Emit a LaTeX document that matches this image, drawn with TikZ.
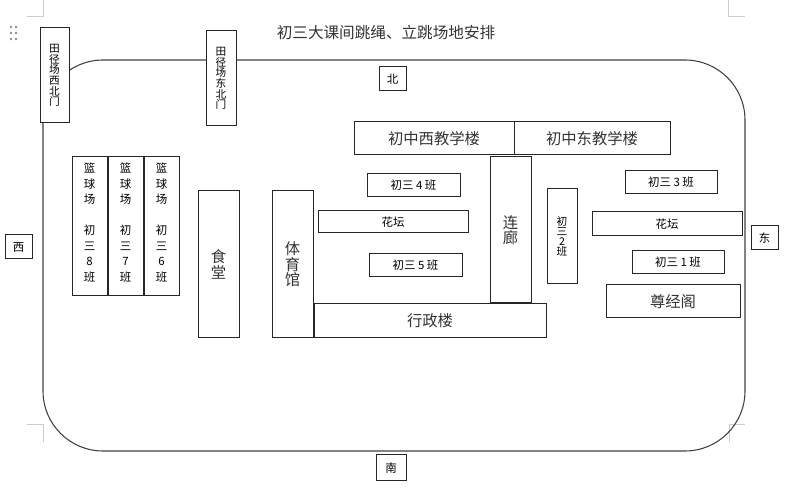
\documentclass[tikz,border=0pt]{standalone}
\usepackage{fontspec}
\setmainfont{Noto Sans CJK SC}
\tikzset{
	bx/.style={draw=black!85, line width=0.75pt, fill=white},
	sm/.style={font=\fontsize{8.6}{11.6}\selectfont, align=center, inner sep=0pt},
	md/.style={font=\fontsize{11.5}{11.6}\selectfont, align=center, inner sep=0pt, text=black!80},
	gate/.style={font=\fontsize{8}{8}\selectfont, align=center, inner sep=0pt},
	pgmark/.style={black!20, line width=0.75pt}
}
\begin{document}
\begin{tikzpicture}[x=0.75pt, y=-0.75pt]
	\useasboundingbox (0,0) rectangle (800,491);
	\draw[pgmark] (27,17) -- (43,17) -- (43,0);
	\draw[pgmark] (745,17) -- (728,17) -- (728,0);
	\draw[pgmark] (27,425) -- (43,425) -- (43,442);
	\draw[pgmark] (745,425) -- (729,425) -- (729,442);
	\foreach \i in {27,33,39} \foreach \j in {11,16} \fill[black!45] (\j,\i) circle (1.3);
	\node[md, font=\fontsize{11.7}{12}\selectfont] (title) at (386,33) {初三大课间跳绳、立跳场地安排};
	\draw[black!75, line width=0.8pt, rounded corners=45pt] (43,60) rectangle (745,451);
	\draw[bx] (40,28) rectangle (69,123) node[midway, gate] (xbm) {田\\径\\场\\西\\北\\门};
	\draw[bx] (206,31) rectangle (236,126) node[midway, gate] (dbm) {田\\径\\场\\东\\北\\门};
	\draw[bx] (379,67) rectangle (406,91) node[midway, sm] (bei) {北};
	\draw[bx] (376,455) rectangle (406,481) node[midway, sm] (nan) {南};
	\draw[bx] (5,235) rectangle (32,259) node[midway, sm] (xi) {西};
	\draw[bx] (751,226) rectangle (778,250) node[midway, sm] (dong) {东};
	\foreach \x/\n in {72/8,108/7,144/6}
		\draw[bx] (\x,157) rectangle ++(35,139) node[midway, sm, yshift=3pt] (lq\n) {篮\\球\\场\\[11.6pt]初\\三\\\n\\班};
	\draw[bx] (198,191) rectangle (239,338) node[midway, md] (st) {食\\堂};
	\draw[bx] (272,191) rectangle (313,338) node[midway, md] (tyg) {体\\育\\馆};
	\draw[bx] (354,122) rectangle (514,155) node[midway, md] (xjl) {初中西教学楼};
	\draw[bx] (514,122) rectangle (670,155) node[midway, md] (djl) {初中东教学楼};
	\draw[bx] (490,157) rectangle (531,303) node[midway, md] (ll) {连\\廊};
	\draw[bx] (314,304) rectangle (546,338) node[midway, md] (xzl) {行政楼};
	\draw[bx] (606,285) rectangle (740,318) node[midway, md] (zjg) {尊经阁};
	\draw[bx] (367,174) rectangle (460,197) node[midway, sm] (c4) {初三 4 班};
	\draw[bx] (318,211) rectangle (468,233) node[midway, sm] (ht1) {花坛};
	\draw[bx] (369,254) rectangle (462,277) node[midway, sm] (c5) {初三 5 班};
	\draw[bx] (625,171) rectangle (717,194) node[midway, sm] (c3) {初三 3 班};
	\draw[bx] (592,212) rectangle (742,236) node[midway, sm] (ht2) {花坛};
	\draw[bx] (632,251) rectangle (724,274) node[midway, sm] (c1) {初三 1 班};
	\draw[bx] (547,189) rectangle (577,284) node[midway, sm, font=\fontsize{8}{7.6}\selectfont] (c2) {初\\三\\2\\班};
\end{tikzpicture}
\end{document}
